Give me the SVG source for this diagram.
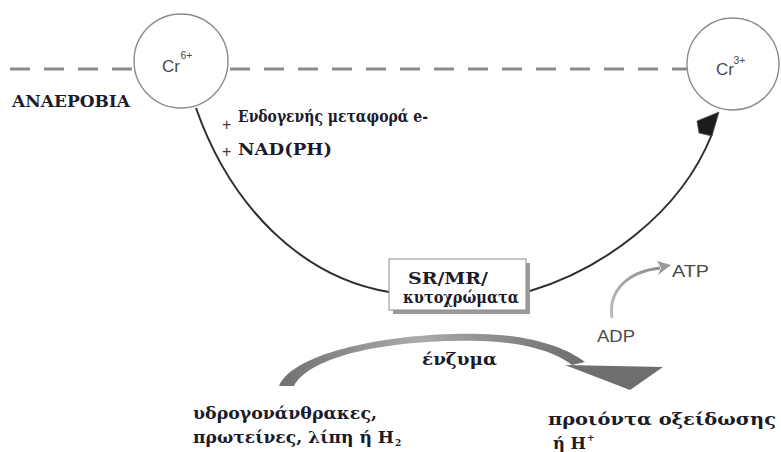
<svg xmlns="http://www.w3.org/2000/svg" width="781" height="452" viewBox="0 0 781 452">
  <defs>
    <style>
      .ser { font-family: "DejaVu Serif Condensed", "DejaVu Serif", "Liberation Serif", serif; font-weight: bold; fill: #1b1b2a; }
      .sans { font-family: "Liberation Sans", Arial, sans-serif; fill: #4a4a4a; }
      .ion { fill: #ffffff; stroke: #8c8c8c; stroke-width: 1.4; }
      .dash { stroke: #8a8a8a; stroke-width: 3; stroke-dasharray: 20 14; fill: none; }
      .flow { fill: none; stroke: #2e2e2e; stroke-width: 2; }
      .plus { font-family: "Liberation Sans", Arial, sans-serif; font-size: 16px; fill: #3a3a3a; }
    </style>
    <linearGradient id="bandGrad" x1="0" y1="0" x2="1" y2="0">
      <stop offset="0" stop-color="#707070"/>
      <stop offset="0.45" stop-color="#ababab"/>
      <stop offset="1" stop-color="#6c6c6c"/>
    </linearGradient>
    <linearGradient id="atpGrad" x1="0" y1="1" x2="1" y2="0">
      <stop offset="0" stop-color="#bdbdbd"/>
      <stop offset="1" stop-color="#8f8f8f"/>
    </linearGradient>
  </defs>

  <rect width="781" height="452" fill="#ffffff"/>

  <!-- boundary line (dashed) -->
  <g id="boundary">
    <line class="dash" x1="10" y1="69" x2="133" y2="69"/>
    <line class="dash" x1="230" y1="69" x2="687" y2="69"/>
  </g>

  <!-- connectors -->
  <g id="connectors">
    <path class="flow" d="M196,108 C230,205 300,277 389,292"/>
    <path class="flow" d="M530,291 C600,270 680,215 712,134"/>
    <polygon points="719,112 697,121 699,133 712,136" fill="#1c1c1c" stroke="#555" stroke-width="0.8"/>
    <!-- ADP -> ATP -->
    <path d="M612,318 C608,292 626,272 660,268" fill="none" stroke="url(#atpGrad)" stroke-width="3"/>
    <polygon points="657,261 671,265 658,275 661,268" fill="#9a9a9a"/>
    <!-- enzyme arrow -->
    <path d="M279,386 C295,350 400,332 480,334 C530,335 565,347 585,362 L572,365 C555,352 525,342 480,341 C405,339 312,352 294,386 Z" fill="url(#bandGrad)"/>
    <polygon points="565,365 663,367 630,390" fill="#6e6e6e"/>
  </g>

  <!-- Cr(VI) -->
  <g id="cr6">
    <circle class="ion" cx="181" cy="61" r="47"/>
    <text class="sans" x="162" y="72" font-size="17">Cr</text>
    <text class="sans" x="180.5" y="59" font-size="10.5">6+</text>
  </g>

  <!-- Cr(III) -->
  <g id="cr3">
    <circle class="ion" cx="733" cy="64" r="46"/>
    <text class="sans" x="716" y="75" font-size="17">Cr</text>
    <text class="sans" x="733.5" y="64" font-size="10.5">3+</text>
  </g>

  <!-- condition label -->
  <g id="anaerobic">
    <text class="ser" x="12" y="107" font-size="16.5" textLength="118" lengthAdjust="spacingAndGlyphs">ΑΝΑΕΡΟΒΙΑ</text>
  </g>

  <!-- electron donors -->
  <g id="donors">
    <text class="plus" x="222" y="130">+</text>
    <text class="ser" x="238" y="122" font-size="17" textLength="190" lengthAdjust="spacingAndGlyphs">Ενδογενής μεταφορά e-</text>
    <text class="plus" x="222" y="157">+</text>
    <text class="ser" x="238" y="155" font-size="17" textLength="94" lengthAdjust="spacingAndGlyphs">NAD(PH)</text>
  </g>

  <!-- reductase box -->
  <g id="reductase">
    <rect x="393" y="263" width="137" height="51" fill="#9a9a9a"/>
    <rect x="389" y="259" width="137" height="51" fill="#ffffff" stroke="#8c8c8c" stroke-width="1"/>
    <text class="ser" x="408" y="284" font-size="17" textLength="80" lengthAdjust="spacingAndGlyphs">SR/MR/</text>
    <text class="ser" x="403" y="303" font-size="16" font-weight="normal" textLength="116" lengthAdjust="spacingAndGlyphs">κυτοχρώματα</text>
  </g>

  <!-- energy -->
  <g id="atp">
    <text class="sans" x="672" y="277" font-size="16" textLength="37" lengthAdjust="spacingAndGlyphs">ATP</text>
  </g>
  <g id="adp">
    <text class="sans" x="597" y="342" font-size="16" textLength="38" lengthAdjust="spacingAndGlyphs">ADP</text>
  </g>

  <!-- enzyme -->
  <g id="enzyme">
    <text class="ser" x="422" y="365" font-size="17" textLength="75" lengthAdjust="spacingAndGlyphs">ένζυμα</text>
  </g>

  <!-- substrates -->
  <g id="substrates">
    <text class="ser" x="193" y="419" font-size="17" textLength="184" lengthAdjust="spacingAndGlyphs">υδρογονάνθρακες,</text>
    <text class="ser" x="193" y="443" font-size="17" textLength="201" lengthAdjust="spacingAndGlyphs">πρωτείνες, λίπη ή H</text>
    <text class="ser" x="395" y="446" font-size="10">2</text>
  </g>

  <!-- products -->
  <g id="products">
    <text class="ser" x="548" y="425" font-size="17" textLength="228" lengthAdjust="spacingAndGlyphs">προιόντα οξείδωσης</text>
    <text class="ser" x="553" y="449" font-size="17" textLength="33" lengthAdjust="spacingAndGlyphs">ή H</text>
    <text class="ser" x="587" y="441" font-size="10">+</text>
  </g>
</svg>
